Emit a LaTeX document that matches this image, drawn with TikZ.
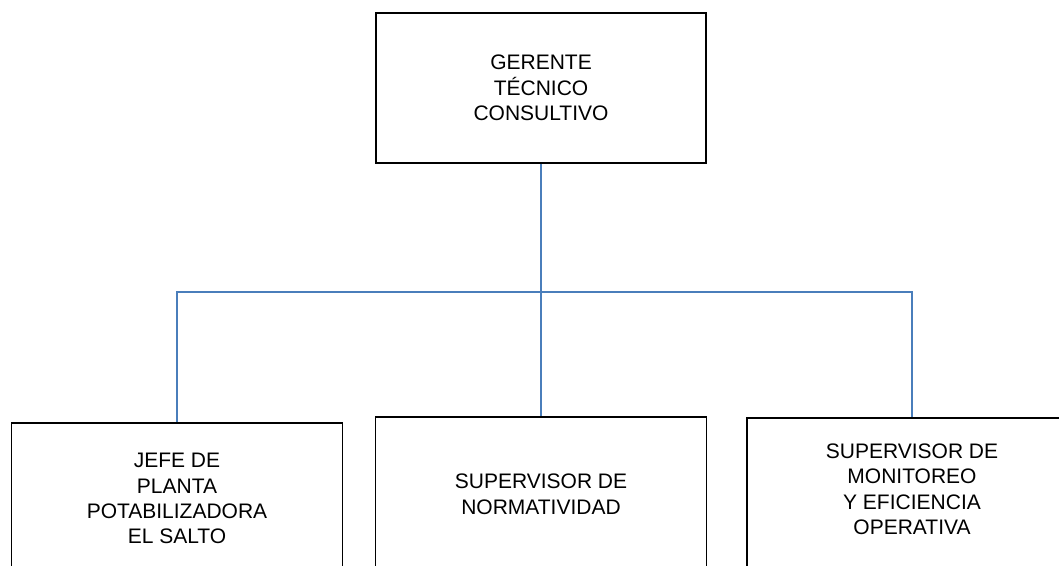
\documentclass[tikz,border=0pt]{standalone}
\usepackage{fontspec}
\setmainfont{Liberation Sans}
\definecolor{linkblue}{RGB}{74,126,187}

\begin{document}
\begin{tikzpicture}[x=1pt, y=-1pt,
    box/.style={draw=black, line width=1.6pt, rectangle, align=center,
        font=\fontsize{21}{25.3}\selectfont, inner sep=0pt},
    link/.style={draw=linkblue, line width=1.5pt}]
    \useasboundingbox (0,0) rectangle (1059,565);
    \clip (0,0) rectangle (1059,565);

    % top
    \node[box, minimum width=330pt, minimum height=150pt] (gerente) at (541,88)
        {GERENTE\\T\'ECNICO\\CONSULTIVO};

    % bottom row
    \node[box, anchor=north, minimum width=331pt, minimum height=152pt] (jefe) at (177,422)
        {JEFE DE\\PLANTA\\POTABILIZADORA\\EL SALTO};
    \node[box, anchor=north, minimum width=331pt, minimum height=155pt] (norma) at (541,416)
        {SUPERVISOR DE\\NORMATIVIDAD};
    \node[box, anchor=north, minimum width=330pt, minimum height=160pt, text depth=17pt] (monit) at (912,417)
        {SUPERVISOR DE\\MONITOREO\\Y EFICIENCIA\\OPERATIVA};

    % connectors
    \coordinate (bus) at (0,292);
    \draw[link] (gerente.south) -- (gerente.south |- bus) -| (jefe.north);
    \draw[link] (gerente.south |- bus) -| (monit.north);
    \draw[link] (gerente.south |- bus) -- (norma.north);
\end{tikzpicture}
\end{document}
